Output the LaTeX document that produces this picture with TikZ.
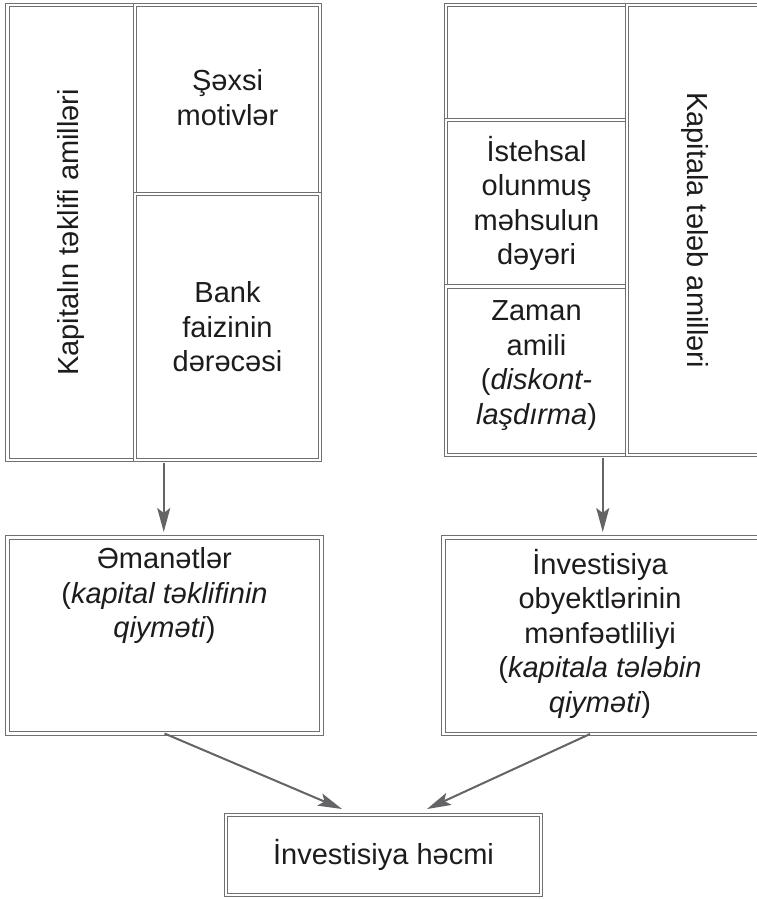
\documentclass[tikz,border=0pt]{standalone}
\usepackage{fontspec}
\setmainfont{Liberation Sans}
\usetikzlibrary{arrows.meta,calc}
\definecolor{lineg}{RGB}{112,112,114}
\definecolor{arrg}{RGB}{100,100,102}
\definecolor{txt}{RGB}{30,27,28}
\begin{document}
\begin{tikzpicture}[x=1pt,y=-1pt,
  cell/.style={draw=lineg, line width=1.3pt, double=white, double distance=2.2pt,
    rectangle, inner sep=0pt, outer sep=0pt, anchor=north west},
  lbl/.style={text=txt, font=\fontsize{29}{34.5}\selectfont, align=center, inner sep=0pt},
  arr/.style={draw=arrg, line width=2pt, -{Stealth[length=24pt,width=13pt,inset=5pt]}}]
\useasboundingbox (0,0) rectangle (756,899);
\fill[white] (0,0) rectangle (756,899);
% left group
\node[cell, minimum width=312.5pt, minimum height=455pt] (lgrp) at (7.5,5) {};
\node[cell, minimum width=127.5pt, minimum height=455pt] (lcol) at (7.5,5) {};
\node[cell, minimum width=185pt, minimum height=189pt] (lc1) at (135,5) {};
\node[cell, minimum width=185pt, minimum height=266pt] (lc2) at (135,194) {};
% right group
\node[cell, minimum width=316pt, minimum height=450pt] (rgrp) at (446,5) {};
\node[cell, minimum width=181pt, minimum height=115pt] (rc0) at (446,5) {};
\node[cell, minimum width=181pt, minimum height=166.5pt] (rc1) at (446,120) {};
\node[cell, minimum width=181pt, minimum height=168.5pt] (rc2) at (446,286.5) {};
\node[cell, minimum width=135pt, minimum height=450pt] (rcol) at (627,5) {};
% lower boxes
\node[cell, minimum width=314pt, minimum height=196pt] (ebox) at (7.5,537.5) {};
\node[cell, minimum width=318.5pt, minimum height=196.5pt] (ibox) at (443.5,537.5) {};
\node[cell, minimum width=315pt, minimum height=80pt] (inv) at (226,815) {};
% labels
\node[lbl, rotate=90] (tlcol) at (lcol.center) {Kapitalın təklifi amilləri};
\node[lbl] (tlc1) at ($(lc1.center)+(0,-2)$) {Şəxsi\\motivlər};
\node[lbl] (tlc2) at (lc2.center) {Bank\\faizinin\\dərəcəsi};
\node[lbl] (trc1) at (rc1.center) {İstehsal\\olunmuş\\məhsulun\\dəyəri};
\node[lbl] (trc2) at ($(rc2.center)+(0,-5)$) {Zaman\\amili\\(\textit{diskont-}\\\textit{laşdırma})};
\node[lbl, rotate=-90] (trcol) at (rcol.center) {Kapitala tələb amilləri};
\node[lbl, anchor=north] (tebox) at ($(ebox.north)+(0,10)$) {Əmanətlər\\(\textit{kapital təklifinin}\\\textit{qiymәti})};
\node[lbl] (tibox) at ($(ibox.center)+(-2.75,-2)$) {İnvestisiya\\obyektlərinin\\mənfəətliliyi\\(\textit{kapitala tələbin}\\\textit{qiymәti})};
\node[lbl] (tinv) at (inv.center) {İnvestisiya həcmi};
% connectors
\coordinate (ltip) at ($(inv.north)+(-41.5,-6)$);
\coordinate (rtip) at ($(inv.north)+(43.5,-6)$);
\coordinate (rstart) at ($(ibox.south)+(-12.75,0)$);
\draw[arr, shorten <=2.5pt, shorten >=5.5pt] (lgrp.south) -- (lgrp.south |- ebox.north);
\draw[arr, shorten <=2.5pt, shorten >=5.5pt] (ibox.north |- rgrp.south) -- (ibox.north);
\draw[arr] (ebox.south) -- (ltip);
\draw[arr] (rstart) -- (rtip);
\end{tikzpicture}
\end{document}
